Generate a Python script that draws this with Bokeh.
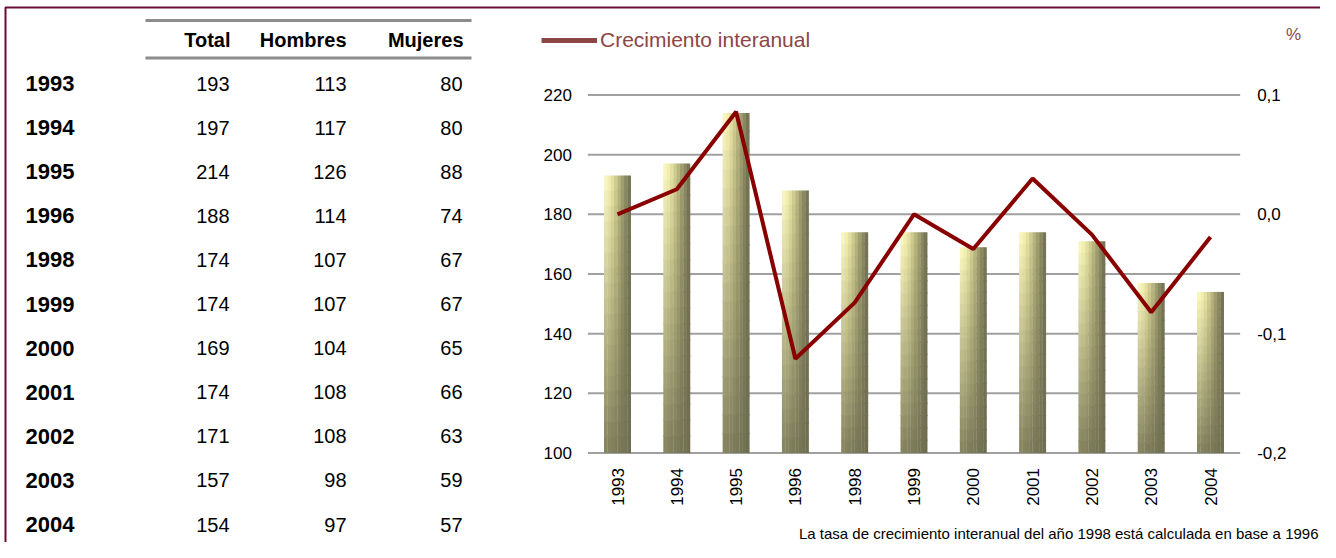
import math
from bokeh.plotting import figure
from bokeh.models import Range1d, ColumnDataSource, Legend, LegendItem
from bokeh.transform import dodge
from bokeh.embed import file_html
from bokeh.resources import INLINE
from bokeh.core.properties import value

# ---------------- data ----------------
years = ["1993", "1994", "1995", "1996", "1998", "1999", "2000", "2001", "2002", "2003", "2004"]
total = [193, 197, 214, 188, 174, 174, 169, 174, 171, 157, 154]
hombres = [113, 117, 126, 114, 107, 107, 104, 108, 108, 98, 97]
mujeres = [80, 80, 88, 74, 67, 67, 65, 66, 63, 59, 57]
growth = [0.0, 0.021, 0.086, -0.121, -0.074, 0.0, -0.029, 0.030, -0.017, -0.082, -0.019]
columns = ["Total", "Hombres", "Mujeres"]
left_ticks = [100, 120, 140, 160, 180, 200, 220]
left_labels = ["100", "120", "140", "160", "180", "200", "220"]
right_ticks = [-0.2, -0.1, 0.0, 0.1]
right_labels = ["-0,2", "-0,1", "0,0", "0,1"]
legend_label = "Crecimiento interanual"
unit_label = "%"
note = "La tasa de crecimiento interanual del año 1998 está calculada en base a 1996"

# ---------------- layout / style constants ----------------
W, H = 1320, 542
SANS = "Liberation Sans"
BORDER = "#6a0a36"
PITCH, C0 = 59.3, 617.0            # px between bars, px centre of first bar
Y_TOP_PX, Y_BOT_PX = 94.5, 452.5    # px of 220 and 100
K = (Y_BOT_PX - Y_TOP_PX) / 120.0
ROW0, ROWH = 83.0, 44.1             # px of first table row, row pitch

n = len(years)
xi = list(range(n))

p = figure(width=W, height=H,
           x_range=Range1d(-C0 / PITCH, (W - C0) / PITCH),
           y_range=Range1d(100 - (H - Y_BOT_PX) / K, 220 + Y_TOP_PX / K),
           min_border=0, x_axis_location=None, y_axis_location=None,
           output_backend="svg", toolbar_location=None)
p.xgrid.visible = False
p.ygrid.visible = False
p.outline_line_color = None
p.background_fill_color = "white"
p.border_fill_color = "white"

y0, y1 = p.y_range.start, p.y_range.end
p.extra_y_ranges = {
    "pct": Range1d(-0.2 + (y0 - 100) * 0.0025, -0.2 + (y1 - 100) * 0.0025),
    "rows": Range1d((H - ROW0) / ROWH, -ROW0 / ROWH),
    "py": Range1d(H, 0),
}
p.extra_x_ranges = {"px": Range1d(0, W)}

# frame border (top + left)
p.line(x=[5, 5, W], y=[H, 7, 7], x_range_name="px", y_range_name="py",
       line_color=BORDER, line_width=2)

# ---------------- table ----------------
tsrc = ColumnDataSource(dict(year=years, r=xi,
                             total=[str(v) for v in total],
                             hombres=[str(v) for v in hombres],
                             mujeres=[str(v) for v in mujeres]))
p.text(x=25, y="r", text="year", source=tsrc, x_range_name="px", y_range_name="rows",
       text_font=value(SANS), text_font_style="bold", text_font_size="22px",
       text_baseline="middle", text_align="left", text_color="black")
for key, xr in zip(["total", "hombres", "mujeres"], [229, 346, 462]):
    p.text(x=xr, y="r", text=key, source=tsrc, x_range_name="px", y_range_name="rows",
           text_font=value(SANS), text_font_size="20px",
           text_baseline="middle", text_align="right", text_color="black")
hsrc = ColumnDataSource(dict(name=columns, x=[230, 346, 463]))
p.text(x="x", y=-0.98, text="name", source=hsrc, x_range_name="px", y_range_name="rows",
       text_font=value(SANS), text_font_style="bold", text_font_size="20px",
       text_baseline="middle", text_align="right", text_color="black")
for yy in [20, 57.5]:
    p.line(x=[145, 471], y=[yy, yy], x_range_name="px", y_range_name="py",
           line_color="#8c8c8c", line_width=3)

# ---------------- chart ----------------
gsrc = ColumnDataSource(dict(y=left_ticks, lab=left_labels))
p.segment(x0=-0.5, x1=n - 0.5, y0="y", y1="y", source=gsrc,
          line_color="#a0a0a0", line_width=2)
p.text(x=-0.5, y="y", text="lab", source=gsrc, x_offset=-16,
       text_font=value(SANS), text_font_size="17px", text_align="right",
       text_baseline="middle", text_color="black")
rsrc = ColumnDataSource(dict(y=right_ticks, lab=right_labels))
p.text(x=n - 0.5, y="y", text="lab", source=rsrc, y_range_name="pct", x_offset=17,
       text_font=value(SANS), text_font_size="17px", text_align="left",
       text_baseline="middle", text_color="black")

# gradient bars (vertical strips x horizontal bands)
top_cols = ["#fbf8c0", "#f5f1b2", "#e6e2a2", "#d1cd8f", "#b9b67e", "#a19f6e", "#8a8960", "#767555"]
bot_cols = ["#84835e", "#81805c", "#7e7d5b", "#7b7a59", "#787757", "#757455", "#727153", "#6f6e51"]
NS = len(top_cols)
NB = 18
BW = 0.45
sw = BW / NS


def hx(c):
    return [int(c[i:i + 2], 16) for i in (1, 3, 5)]


def mix(a, b, f):
    ca, cb = hx(a), hx(b)
    return "#%02x%02x%02x" % tuple(int(round(ca[i] + (cb[i] - ca[i]) * f)) for i in range(3))


for k in range(NS):
    d = dict(x=[], bottom=[], top=[], color=[])
    for i, v in zip(xi, total):
        for j in range(NB):
            b = 100 + (v - 100) * j / NB
            tp = 100 + (v - 100) * (j + 1) / NB
            if j < NB - 1:
                tp += 0.4
            d["x"].append(i)
            d["bottom"].append(b)
            d["top"].append(tp)
            d["color"].append(mix(bot_cols[k], top_cols[k], (j + 0.5) / NB))
    off = -BW / 2 + sw * (k + 0.5)
    p.vbar(x=dodge("x", off), width=sw * 1.08, bottom="bottom", top="top",
           fill_color="color", line_color=None, source=ColumnDataSource(d))

# year labels under the bars
ysrc = ColumnDataSource(dict(x=xi, year=years))
p.text(x="x", y=100, text="year", source=ysrc, y_offset=15, angle=math.pi / 2,
       text_font=value(SANS), text_font_size="17px", text_align="right",
       text_baseline="middle", text_color="black")

# growth line (right scale)
lsrc = ColumnDataSource(dict(x=xi, g=growth))
p.line(x="x", y="g", source=lsrc, y_range_name="pct", line_color="#880000", line_width=4)

# legend (renderer with a single undrawable point so the swatch is rendered)
dummy = p.line(x=[float("nan")], y=[float("nan")], line_color="#8c4646", line_width=5)
legend = Legend(items=[LegendItem(label=legend_label, renderers=[dummy])],
                location=(541, H - 52), glyph_width=56, glyph_height=20, label_standoff=3,
                label_height=20, label_text_font=SANS, label_text_font_size="21px",
                label_text_color="#8c4646", padding=0, margin=0, spacing=0,
                border_line_color=None, background_fill_alpha=0)
p.add_layout(legend)

# unit label and note
p.text(x=[1293], y=[34], text=[unit_label], x_range_name="px", y_range_name="py",
       text_font=value(SANS), text_font_size="17px", text_align="center",
       text_baseline="middle", text_color="#8c4646")
p.text(x=[1318], y=[533], text=[note], x_range_name="px", y_range_name="py",
       text_font=value(SANS), text_font_size="15px", text_align="right",
       text_baseline="middle", text_color="black")

open("out.html", "w").write(file_html(p, INLINE))
